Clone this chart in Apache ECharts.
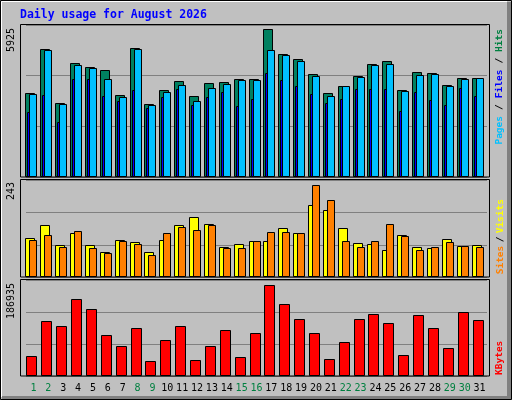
<!DOCTYPE html>
<html><head><meta charset="utf-8">
<script src="https://cdn.jsdelivr.net/npm/echarts@6/dist/echarts.min.js"></script>
<style>html,body{margin:0;padding:0;background:#c0c0c0}#c{width:512px;height:400px}</style>
</head><body><div id="c"></div>
<script>
const days = ['1','2','3','4','5','6','7','8','9','10','11','12','13','14','15','16','17','18','19','20','21','22','23','24','25','26','27','28','29','30','31'];
const weekend = ['1','2','8','9','15','16','22','23','29','30'];
const hits = [3262,4977,2873,4432,4276,4159,3184,5016,2834,3379,3730,3145,3652,3691,3808,3808,5757,4782,4587,4003,3262,3535,3925,4393,4510,3379,4081,4042,3574,3847,3847];
const files = [3223,4938,2834,4354,4237,3808,3106,4977,2795,3301,3574,2951,3457,3613,3769,3769,4938,4743,4510,3925,3145,3535,3886,4354,4393,3340,3964,4003,3535,3808,3847];
const pages = [2522,3184,2132,3808,3808,3145,2951,3379,2678,3106,3418,2795,3106,3301,2756,3028,4042,3769,3535,3223,2873,3028,3418,3418,3418,2561,3301,2990,2795,3457,3145];
const sites = [98,131,81,111,81,63,93,88,63,93,131,151,133,76,83,91,91,123,111,181,169,123,86,83,68,106,76,73,96,78,81];
const visits = [93,106,76,116,73,60,91,83,55,111,126,118,131,73,73,91,113,113,111,232,194,91,76,91,133,103,68,76,88,78,76];
const kbytes = [39800,108300,98500,151400,131800,80900,59400,94600,30000,71100,98500,32000,59400,90700,37800,84800,178800,141600,112200,84800,33900,67200,112200,122000,104400,41800,120100,94600,55500,125900,110300];
const maxHits = 5925, maxSites = 243, maxKB = 186935;

function rend(off, w, color){
  return function(params, api){
    const b = api.coord([api.value(0), 0]);
    const t = api.coord([api.value(0), api.value(1)]);
    const x = Math.round(b[0] + off) + 0.5, y = Math.round(t[1]) + 0.5, yb = Math.round(b[1]) - 0.5;
    return {type:'rect', shape:{x:x, y:y, width:w, height:yb - y}, style:{fill:color, stroke:'#000', lineWidth:1}};
  };
}
function ser(vals, gi, off, w, color){
  return {type:'custom', xAxisIndex:gi, yAxisIndex:gi, renderItem:rend(off,w,color), data: vals.map((v,i)=>[i,v])};
}
const grids = [
  {left:26, right:25, top:25, height:152},
  {left:26, right:25, top:180.5, height:96.5},
  {left:26, right:25, top:280.5, height:95.5}
];
const maxes = [maxHits, maxSites, maxKB];
const xAxis = grids.map((g,i)=>({type:'category', gridIndex:i, data:days, boundaryGap:true,
  axisLine:{show:false}, axisTick:{show:false},
  axisLabel:{show:i===2, interval:0, fontFamily:'DejaVu Sans Mono', fontSize:10, margin:7, hideOverlap:false,
    color:(v)=> weekend.includes(v) ? '#008040' : '#000'}}));
const yAxis = maxes.map((m,i)=>({type:'value', gridIndex:i, min:0, max:m, interval:m/3,
  axisLabel:{show:false}, axisLine:{show:false}, axisTick:{show:false},
  splitLine:{show:true, lineStyle:{color:'#808080', width:1}}}));
const graphic = [
  {type:'rect', shape:{x:0.5,y:0.5,width:511,height:399}, style:{fill:'#c0c0c0', stroke:'#000', lineWidth:1}, z:-10},
  {type:'polyline', shape:{points:[[1.5,397],[1.5,1.5],[507,1.5]]}, style:{stroke:'#fff', fill:null, lineWidth:1}, z:-9},
  {type:'rect', shape:{x:507,y:2,width:4,height:397}, style:{fill:'#808080'}, z:-9},
  {type:'rect', shape:{x:2,y:396,width:509,height:3}, style:{fill:'#808080'}, z:-9},
  {type:'rect', shape:{x:20.5,y:24.5,width:469,height:152.5}, style:{fill:null, stroke:'#000', lineWidth:1}, z:5},
  {type:'rect', shape:{x:20.5,y:179.5,width:469,height:97.5}, style:{fill:null, stroke:'#000', lineWidth:1}, z:5},
  {type:'rect', shape:{x:20.5,y:279.5,width:469,height:96.5}, style:{fill:null, stroke:'#000', lineWidth:1}, z:5},
  {type:'text', x:20, y:9, style:{text:'Daily usage for August 2026', fill:'#0000ff', font:'bold 11.5px "DejaVu Sans Mono"'}},
  {type:'text', x:16, y:28, rotation:Math.PI/2, style:{text:String(maxHits), fill:'#000', font:'10px "DejaVu Sans Mono"', align:'right', verticalAlign:'bottom'}},
  {type:'text', x:16, y:182, rotation:Math.PI/2, style:{text:String(maxSites), fill:'#000', font:'10px "DejaVu Sans Mono"', align:'right', verticalAlign:'bottom'}},
  {type:'text', x:16, y:283, rotation:Math.PI/2, style:{text:String(maxKB), fill:'#000', font:'10px "DejaVu Sans Mono"', align:'right', verticalAlign:'bottom'}},
  {type:'text', x:495, y:29, rotation:Math.PI/2, style:{text:'{p|Pages} {s|/} {f|Files} {s|/} {h|Hits}', align:'right', verticalAlign:'top', font:'10px "DejaVu Sans Mono"',
    rich:{p:{fill:'#00c0ff',font:'bold 9.5px "DejaVu Sans Mono"'}, f:{fill:'#0000ff',font:'bold 9.5px "DejaVu Sans Mono"'}, h:{fill:'#008040',font:'bold 9.5px "DejaVu Sans Mono"'}, s:{fill:'#000',font:'bold 9.5px "DejaVu Sans Mono"'}}}},
  {type:'text', x:495, y:199, rotation:Math.PI/2, style:{text:'{a|Sites} {s|/} {b|Visits}', align:'right', verticalAlign:'top',
    rich:{a:{fill:'#ff8000',font:'bold 9.5px "DejaVu Sans Mono"'}, b:{fill:'#ffff00',font:'bold 9.5px "DejaVu Sans Mono"'}, s:{fill:'#000',font:'bold 9.5px "DejaVu Sans Mono"'}}}},
  {type:'text', x:495, y:375, rotation:Math.PI/2, style:{text:'KBytes', fill:'#ff0000', font:'bold 9.5px "DejaVu Sans Mono"', align:'left', verticalAlign:'top'}}
];
const chart = echarts.init(document.getElementById('c'), null, {renderer:'canvas'});
chart.setOption({
  animation:false, backgroundColor:'transparent',
  grid:grids, xAxis:xAxis, yAxis:yAxis, graphic:graphic,
  series:[
    ser(hits,0,-8,9,'#008060'),
    ser(pages,0,-6,3,'#0000ff'),
    ser(files,0,-4,7,'#00c0ff'),
    ser(sites,1,-8,9,'#ffff00'),
    ser(visits,1,-4,7,'#ff8000'),
    ser(kbytes,2,-7,10,'#ff0000')
  ]
});
</script></body></html>
